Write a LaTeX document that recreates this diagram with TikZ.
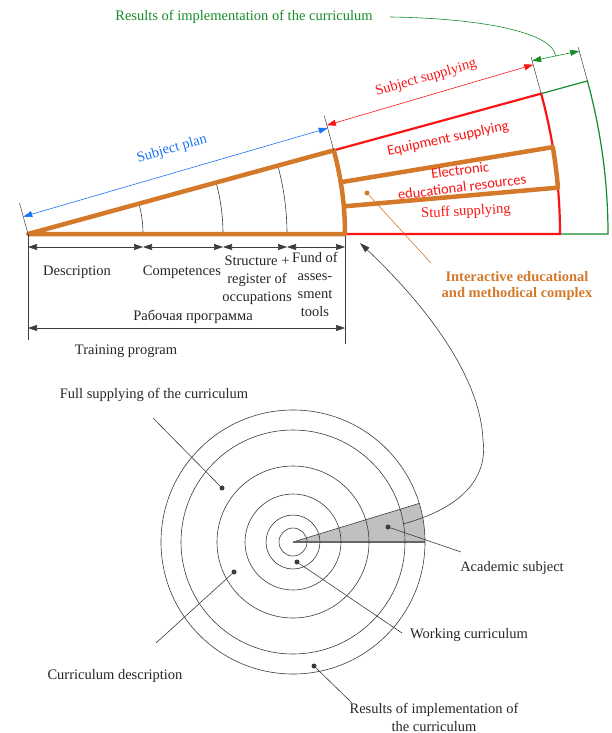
\documentclass[tikz,border=0pt]{standalone}
\usepackage{fontspec}
\setmainfont{Liberation Serif}
\newfontfamily\calibrifont{Carlito}
\usepackage{xcolor}
\usepackage{tikz}
\usetikzlibrary{arrows.meta,calc}
\definecolor{iemcorange}{RGB}{212,121,42}
\definecolor{supplyred}{RGB}{250,20,20}
\definecolor{resultgreen}{RGB}{20,140,40}
\definecolor{planblue}{RGB}{25,115,245}
\definecolor{linegray}{RGB}{60,60,60}
\definecolor{sectorgray}{RGB}{192,192,192}

\begin{document}
\begin{tikzpicture}[
    x=1pt, y=-1pt,
    lbl/.style={font=\fontsize{14.5}{18}\selectfont, inner sep=0pt, align=center, text=black!85},
    cal/.style={inner sep=0pt, align=center, font=\calibrifont\fontsize{14.5}{16.5}\selectfont},
    dim/.style={{Triangle[length=9pt,width=6pt]}-{Triangle[length=9pt,width=6pt]}, linegray, line width=0.6pt},
    ext/.style={linegray, line width=0.5pt},
    leader/.style={linegray, line width=0.6pt},
    dot/.style={circle, fill=linegray, inner sep=0pt, minimum size=5pt},
    ring/.style={linegray, line width=0.6pt},
    edge orange/.style={iemcorange, line width=4.5pt, line join=round},
    arrow/.style={-{Triangle[length=10pt,width=6pt]}, linegray, line width=0.6pt}
]
\useasboundingbox (0,0) rectangle (612,733);

% Wedge of the curriculum
\coordinate (O) at (28,234);
\coordinate (w1) at ($(O)+(-15.3:317)$);
\coordinate (r1) at ($(O)+(-15.3:532)$);
\coordinate (g1) at ($(O)+(-15.3:580)$);

\draw[resultgreen, line width=1.2pt] (r1) -- (g1) arc[start angle=-15.3, end angle=0, radius=580] -- ($(O)+(0:532)$);
\draw[supplyred, line width=2.2pt] (w1) -- (r1) arc[start angle=-15.3, end angle=0, radius=532] -- ($(O)+(0:317)$);
\foreach \r in {115,195,259}
    \draw[linegray, line width=0.6pt] ($(O)+(0:\r)$) arc[start angle=0, end angle=-15.3, radius=\r];
\draw[edge orange] (O) -- (w1) arc[start angle=-15.3, end angle=0, radius=317] -- cycle;
\draw[edge orange] ($(O)+(-9.4:317)$) -- ($(O)+(-9.4:532)$) arc[start angle=-9.4, end angle=-5, radius=532] -- ($(O)+(-5:317)$);

% Extension lines
\draw[ext] (O) -- ($(O)+(-105.3:32)$);
\draw[ext] (w1) -- ($(w1)+(-105.3:36)$);
\draw[ext] (r1) -- ($(r1)+(-105.3:38)$);
\draw[ext] (g1) -- ($(g1)+(-105.3:35)$);

% Dimensions along the wedge
\coordinate (pb0) at ($(O)+(-105.3:18)$);
\coordinate (pb1) at ($(w1)+(-105.3:23)$);
\coordinate (pr0) at ($(w1)+(-105.3:26)$);
\coordinate (pr1) at ($(r1)+(-105.3:30)$);
\coordinate (pg0) at ($(r1)+(-105.3:34)$);
\coordinate (pg1) at ($(g1)+(-105.3:31)$);
\draw[dim, planblue] (pb0) -- (pb1);
\draw[dim, supplyred] (pr0) -- (pr1);
\draw[dim, resultgreen] (pg0) -- (pg1);

\node[lbl, text=planblue, rotate=16] (plan) at (172,149) {Subject plan};
\node[lbl, text=supplyred, rotate=16] (supplying) at (426,78) {Subject supplying};
\node[cal, text=supplyred, rotate=12] (equipment) at (448,139) {Equipment supplying};
\node[cal, text=supplyred, rotate=7] (electronic) at (460,170) {Electronic};
\node[cal, text=supplyred, rotate=7] (resources) at (462,187) {educational resources};
\node[lbl, text=supplyred, rotate=3] (stuff) at (466,212) {Stuff supplying};

% Results of implementation
\node[lbl, text=resultgreen] (results) at (244,17) {Results of implementation of the curriculum};
\coordinate (pg mid) at ($(pg0)!0.5!(pg1)$);
\draw[resultgreen, line width=0.6pt] (results.east) ++(17,0) coordinate (results end)
    .. controls (470,18) and (552,30) .. (pg mid);

% Interactive educational and methodical complex
\node[circle, fill=iemcorange, inner sep=0pt, minimum size=5pt] (iemc dot) at (367,193) {};
\node[lbl, text=iemcorange, font=\fontsize{14.5}{16.5}\selectfont\bfseries] (iemc) at (517,286) {Interactive educational\\and methodical complex};
\coordinate (iemc end) at (431,263);
\draw[iemcorange, line width=0.6pt] (iemc dot) -- (iemc end);

% Working programme dimensions
\coordinate (d0) at (28,247);
\coordinate (d1) at (143,247);
\coordinate (d2) at (223,247);
\coordinate (d3) at (287,247);
\coordinate (d4) at (345,247);
\draw[ext] (O) -- (28,340);
\draw[ext] (345,236) -- (345,344);
\draw[dim] (d0) -- (d1);
\draw[dim] (d1) -- (d2);
\draw[dim] (d2) -- (d3);
\draw[dim] (d3) -- (d4);
\draw[dim] (28,328) -- (345,328);

\node[lbl] (description) at (77,272) {Description};
\node[lbl] (competences) at (182,272) {Competences};
\node[lbl] (structure) at (257,280) {Structure +\\register of\\occupations};
\node[lbl] (fund) at (315,284) {Fund of\\asses-\\sment\\tools};
\node[lbl] (rabochaya) at (193,317) {Рабочая программа};
\node[lbl] (training) at (126,351) {Training program};

% Circles of the curriculum
\coordinate (C) at (293,542);
\fill[sectorgray] (C) -- ($(C)+(-17:132)$) arc[start angle=-17, end angle=0, radius=132] -- cycle;
\draw[linegray, line width=0.6pt] (C) -- ($(C)+(-17:132)$);
\draw[black!60, line width=1.3pt] (C) -- ($(C)+(0:132)$);
\foreach \r in {14,27,48,76,112,132}
    \draw[ring] (C) circle[radius=\r];

% Link from the sector to the wedge
\coordinate (subject start) at (403,524);
\coordinate (subject tip) at (360,243);
\draw[arrow] (subject start) .. controls (462,508) and (488,478) .. (483,440)
    .. controls (480,370) and (415,295) .. (subject tip);

% Labels of the circles
\node[dot] (full dot) at (222,488) {};
\node[dot] (description dot) at (234,572) {};
\node[dot] (working dot) at (297,562) {};
\node[dot] (subject dot) at (388,527) {};
\node[dot] (results dot) at (314,666) {};

\node[lbl] (full) at (154,395) {Full supplying of the curriculum};
\node[lbl] (curdesc) at (115,676) {Curriculum description};
\node[lbl] (working) at (469,635) {Working curriculum};
\node[lbl] (academic) at (512,568) {Academic subject};
\node[lbl] (impl) at (434,717) {Results of implementation of\\the curriculum};

\coordinate (full end) at (153,418);
\coordinate (curdesc end) at (156,643);
\coordinate (working end) at (402,633);
\coordinate (academic end) at (461,552);
\coordinate (impl end) at (352,703);
\draw[leader] (full dot) -- (full end);
\draw[leader] (description dot) -- (curdesc end);
\draw[leader] (working dot) -- (working end);
\draw[leader] (subject dot) -- (academic end);
\draw[leader] (results dot) -- (impl end);

\end{tikzpicture}
\end{document}
